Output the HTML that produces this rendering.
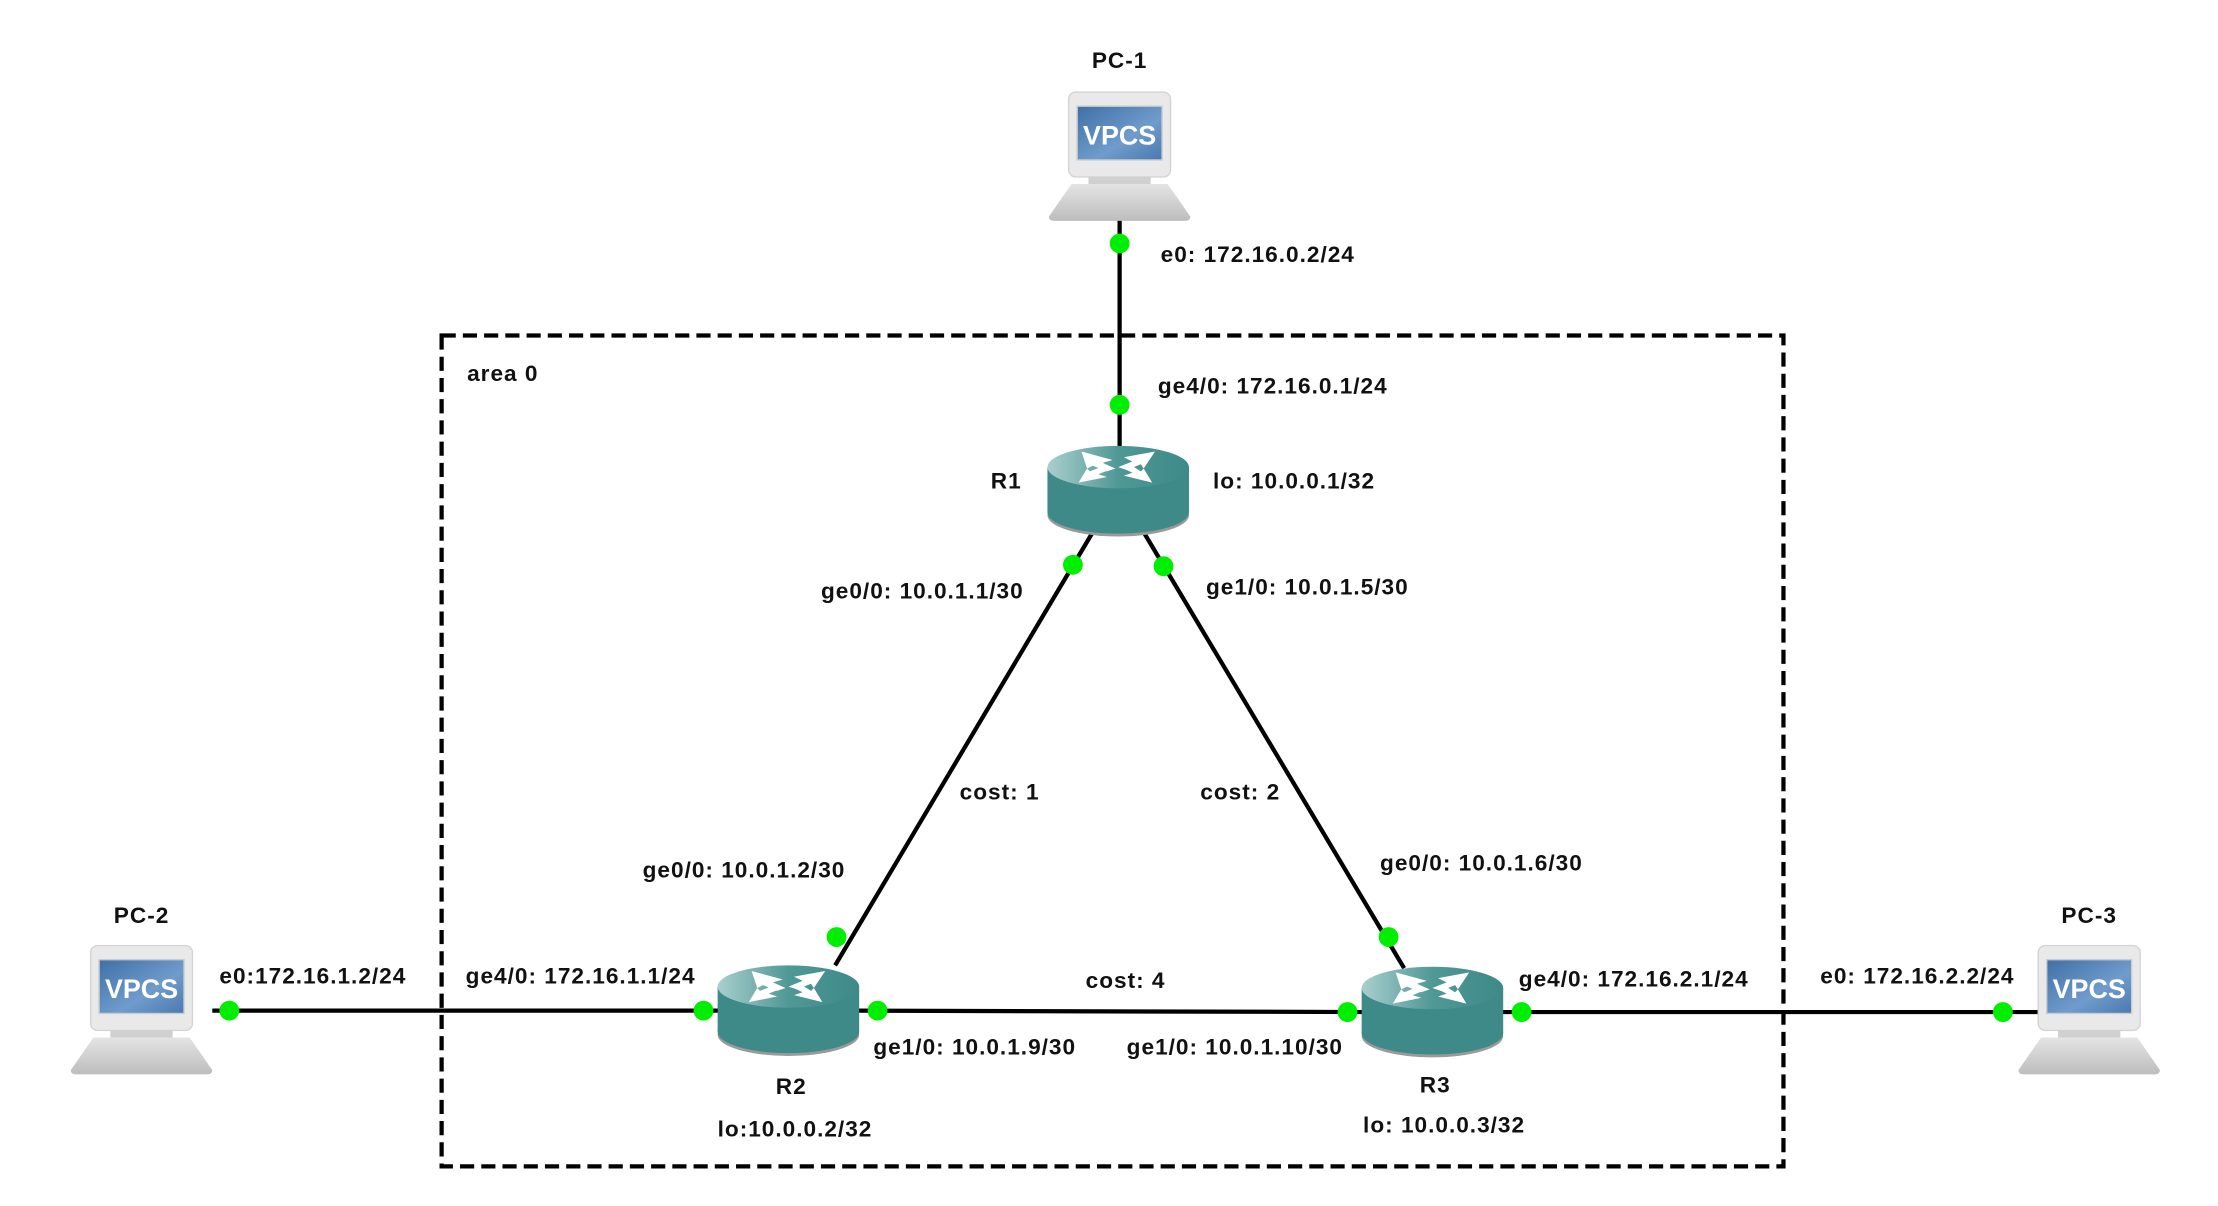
<!DOCTYPE html>
<html><head><meta charset="utf-8"><style>
html,body{margin:0;padding:0;background:#fff;}
svg{display:block}
text{font-family:"Liberation Sans",sans-serif;font-weight:bold;font-size:16px;letter-spacing:0.7px;fill:#111}
</style></head><body>
<svg width="2218" height="1206" viewBox="0 0 1567 852" xmlns="http://www.w3.org/2000/svg">
<defs>
<linearGradient id="scr" x1="0" y1="0" x2="1" y2="1"><stop offset="0" stop-color="#3f6fa6"/><stop offset="0.6" stop-color="#6f9ccc"/><stop offset="1" stop-color="#4a79b0"/></linearGradient>
<linearGradient id="base" x1="0" y1="0" x2="0" y2="1"><stop offset="0" stop-color="#e4e4e4"/><stop offset="1" stop-color="#bdbdbd"/></linearGradient>
<linearGradient id="rtop" x1="0" y1="0" x2="1" y2="0"><stop offset="0" stop-color="#a9cfcd"/><stop offset="0.5" stop-color="#4f9896"/><stop offset="1" stop-color="#3d8a88"/></linearGradient>
<g id="pc">
<rect x="-36" y="0" width="72" height="60" rx="5" fill="#e9e9e9" stroke="#d4d4d4"/>
<rect x="-30" y="10" width="60" height="38" fill="url(#scr)" stroke="#ccc"/>
<text x="0" y="37" text-anchor="middle" style="fill:#fff;font-size:19px;letter-spacing:0">VPCS</text>
<rect x="-22" y="60" width="44" height="5" fill="#d0d0d0"/>
<path d="M-34 65 H34 L50 88 Q50 91 46 91 H-46 Q-50 91 -50 88 Z" fill="url(#base)"/>
</g>
<g id="rt">
<ellipse cx="0" cy="19" rx="50" ry="15" fill="#9a9a9a"/>
<rect x="-50" y="-15" width="100" height="32" fill="#3d8a88"/>
<ellipse cx="0" cy="17" rx="50" ry="15" fill="#3d8a88"/>
<ellipse cx="0" cy="-15" rx="50" ry="15" fill="url(#rtop)"/>
<g fill="#fff">
<path d="M-26 -26 L-4 -20 L-11 -18 L-2 -14 L-8 -12 L-18 -16 L-22 -14 Z"/>
<path d="M26 -26 L4 -22 L10 -19 L0 -15 L6 -13 L16 -17 L18 -14 Z"/>
<path d="M-28 -4 L-8 -8 L-14 -10 L-4 -14 L-10 -16 L-20 -12 L-22 -14 Z"/>
<path d="M24 -4 L4 -9 L10 -11 L2 -15 L8 -17 L16 -12 L18 -14 Z"/>
</g>
</g>
</defs>
<rect x="312" y="237" width="948" height="587" fill="none" stroke="#000" stroke-width="3" stroke-dasharray="10,5"/>
<g stroke="#000" stroke-width="3" fill="none">
<line x1="791" y1="155" x2="791" y2="318"/>
<line x1="772" y1="376" x2="590" y2="682"/>
<line x1="808" y1="376" x2="992" y2="684"/>
<line x1="150" y1="714" x2="510" y2="714"/>
<line x1="605" y1="714" x2="965" y2="715"/>
<line x1="1060" y1="715" x2="1440" y2="715"/>
</g>
<use href="#pc" x="791" y="65"/>
<use href="#pc" x="100" y="668"/>
<use href="#pc" x="1476" y="668"/>
<use href="#rt" x="790" y="345"/>
<use href="#rt" x="557" y="712"/>
<use href="#rt" x="1012" y="713"/>
<g fill="#00ee00">
<ellipse cx="791" cy="172" rx="7" ry="7"/>
<ellipse cx="791" cy="286" rx="7" ry="7"/>
<ellipse cx="758" cy="399" rx="7" ry="7"/>
<ellipse cx="822" cy="400" rx="7" ry="7"/>
<ellipse cx="591" cy="662" rx="7" ry="7"/>
<ellipse cx="981" cy="662" rx="7" ry="7"/>
<ellipse cx="162" cy="714" rx="7" ry="7"/>
<ellipse cx="497" cy="714" rx="7" ry="7"/>
<ellipse cx="620" cy="714" rx="7" ry="7"/>
<ellipse cx="952" cy="715" rx="7" ry="7"/>
<ellipse cx="1075" cy="715" rx="7" ry="7"/>
<ellipse cx="1415" cy="715" rx="7" ry="7"/>
</g>
<text x="791" y="48" text-anchor="middle">PC-1</text>
<text x="100" y="652" text-anchor="middle">PC-2</text>
<text x="1476" y="652" text-anchor="middle">PC-3</text>
<text x="330" y="269">area 0</text>
<text x="820" y="185">e0: 172.16.0.2/24</text>
<text x="818" y="278">ge4/0: 172.16.0.1/24</text>
<text x="857" y="345">lo: 10.0.0.1/32</text>
<text x="700" y="345">R1</text>
<text x="580" y="423">ge0/0: 10.0.1.1/30</text>
<text x="852" y="420">ge1/0: 10.0.1.5/30</text>
<text x="678" y="565">cost: 1</text>
<text x="848" y="565">cost: 2</text>
<text x="454" y="620">ge0/0: 10.0.1.2/30</text>
<text x="975" y="615">ge0/0: 10.0.1.6/30</text>
<text x="155" y="695">e0:172.16.1.2/24</text>
<text x="329" y="695">ge4/0: 172.16.1.1/24</text>
<text x="767" y="698">cost: 4</text>
<text x="1073" y="697">ge4/0: 172.16.2.1/24</text>
<text x="1286" y="695">e0: 172.16.2.2/24</text>
<text x="617" y="745">ge1/0: 10.0.1.9/30</text>
<text x="796" y="745">ge1/0: 10.0.1.10/30</text>
<text x="559" y="773" text-anchor="middle">R2</text>
<text x="1014" y="772" text-anchor="middle">R3</text>
<text x="507" y="803">lo:10.0.0.2/32</text>
<text x="963" y="800">lo: 10.0.0.3/32</text>
</svg>
</body></html>
